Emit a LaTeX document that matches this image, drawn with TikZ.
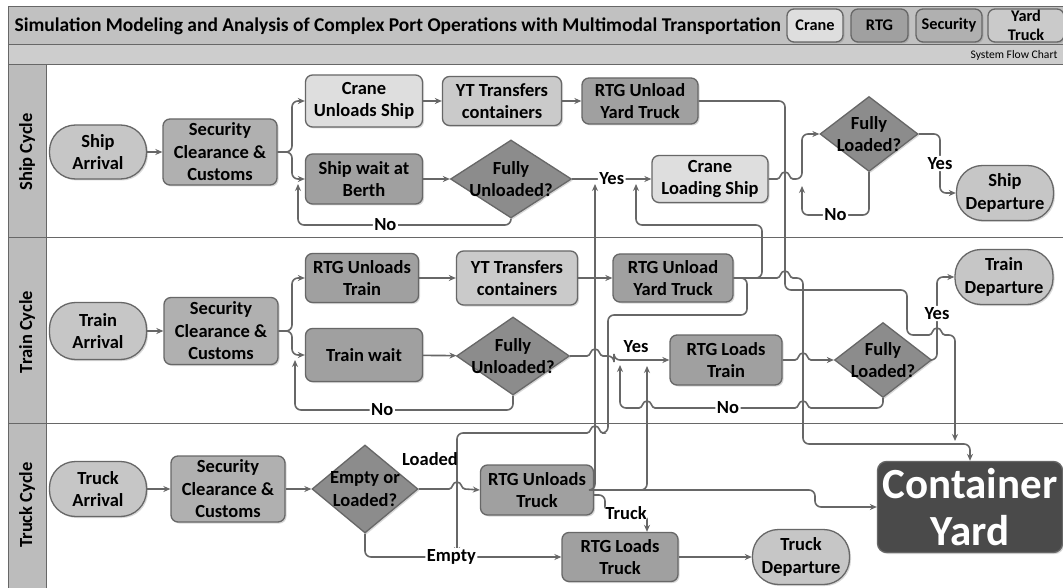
\documentclass[tikz,border=0pt]{standalone}
\usepackage{fontspec}
\setmainfont{Carlito}
\usetikzlibrary{positioning,shapes.geometric,arrows.meta,shadows}

\definecolor{lnc}{HTML}{676767}
\definecolor{cranec}{HTML}{DEDEDE}
\definecolor{rtgc}{HTML}{A0A0A0}
\definecolor{secc}{HTML}{B0B0B0}
\definecolor{ytc}{HTML}{CACACA}
\definecolor{termc}{HTML}{C6C6C6}
\definecolor{decc}{HTML}{8C8C8C}
\definecolor{yardc}{HTML}{4A4A4A}
\definecolor{bandc}{HTML}{C1C1C1}
\definecolor{subc}{HTML}{CDCDCD}
\definecolor{lanec}{HTML}{BCBCBC}

\newcommand{\nf}{\fontsize{18.5}{22.5}\selectfont\bfseries}
\newcommand{\lf}{\fontsize{16.3}{18.5}\selectfont\bfseries}
% line jumps, going right and going left
\newcommand{\hopr}[2]{[sharp corners] -- ({#1-8},#2) .. controls ({#1-4},#2) and ({#1-5},{#2-7}) .. (#1,{#2-7}) .. controls ({#1+5},{#2-7}) and ({#1+4},#2) .. ({#1+8},#2) [rounded corners=6pt]}
\newcommand{\hopl}[2]{[sharp corners] -- ({#1+8},#2) .. controls ({#1+4},#2) and ({#1+5},{#2-7}) .. (#1,{#2-7}) .. controls ({#1-5},{#2-7}) and ({#1-4},#2) .. ({#1-8},#2) [rounded corners=6pt]}

\begin{document}
\begin{tikzpicture}[x=1pt, y=-1pt,
    box/.style = {draw=lnc, line width=1.3pt, rounded corners=7pt, align=center, font=\nf, inner sep=0pt,
                  drop shadow={shadow xshift=1.5pt, shadow yshift=-1.5pt, opacity=0.3}},
    crane/.style = {box, fill=cranec},
    rtg/.style = {box, fill=rtgc},
    secu/.style = {box, fill=secc},
    ytr/.style = {box, fill=ytc},
    term/.style = {box, fill=termc, rounded corners=26pt},
    decide/.style = {draw=lnc, line width=1.3pt, diamond, fill=decc, inner sep=0pt,
                     drop shadow={shadow xshift=1.5pt, shadow yshift=-1.5pt, opacity=0.3}},
    yard/.style = {box, fill=yardc, text=white, font=\fontsize{43}{47}\selectfont\bfseries, rounded corners=9pt},
    lanelbl/.style = {rotate=90, font=\nf},
    arr/.style = {draw=lnc, line width=1.6pt, rounded corners=6pt, -{Stealth[length=7pt,width=6pt]}},
    lbl/.style = {font=\nf, fill=white, inner sep=1.5pt}]
    \useasboundingbox (0,0) rectangle (1063,588);
    % frame and lanes
    \fill[white] (0,0) rectangle (1063,588);
    \draw[lnc, line width=1pt, fill=bandc] (8,7) rectangle (1070,45);
    \draw[lnc, line width=1pt, fill=subc] (8,45) rectangle (1070,65);
    \draw[lnc, line width=1pt, fill=lanec] (8,65) rectangle (46,592);
    \draw[lnc, line width=1pt] (8,65) rectangle (1070,592);
    \draw[lnc, line width=1pt] (8,238) -- (1070,238) (8,423) -- (1070,423);
    \node[font=\fontsize{19.5}{22}\selectfont\bfseries, anchor=west](ttl) at (11,26){Simulation Modeling and Analysis of Complex Port Operations with Multimodal Transportation};
    \node[font=\fontsize{11.6}{13}\selectfont, anchor=east](sfc) at (1061,55){System Flow Chart};
    \node[crane, font=\lf, minimum width=56, minimum height=33](lgcrane) at (815,25.5){Crane};
    \node[rtg, font=\lf, minimum width=57, minimum height=33](lgrtg) at (879.5,25.5){RTG};
    \node[secu, font=\lf, minimum width=66, minimum height=33](lgsec) at (949,25.5){Security};
    \node[ytr, font=\lf, minimum width=76, minimum height=33](lgyt) at (1026,25.5){Yard\\Truck};
    \node[lanelbl](lship) at (27,152){Ship Cycle};
    \node[lanelbl](ltrain) at (27,332){Train Cycle};
    \node[lanelbl](ltruck) at (27,505){Truck Cycle};
    % ship cycle
    \node[term, minimum width=97, minimum height=54](sa) at (98,152){Ship\\Arrival};
    \node[secu, minimum width=114, minimum height=66](ss) at (220,152){Security\\Clearance \&\\Customs};
    \node[crane, minimum width=117, minimum height=52](cus) at (364,101){Crane\\Unloads Ship};
    \node[rtg, minimum width=117, minimum height=50](swb) at (364,179){Ship wait at\\Berth};
    \node[ytr, minimum width=119, minimum height=49](yt1) at (502,101){YT Transfers\\containers};
    \node[rtg, minimum width=116, minimum height=46](ru1) at (640,101){RTG Unload\\Yard Truck};
    \node[decide, minimum width=121, minimum height=78, label={[font=\nf, align=center]center:{Fully\\Unloaded?}}](fu1) at (511,179){};
    \node[crane, minimum width=116, minimum height=47](cls) at (710,179){Crane\\Loading Ship};
    \node[decide, minimum width=98, minimum height=75, label={[font=\nf, align=center]center:{Fully\\Loaded?}}](fl1) at (869,134){};
    \node[term, minimum width=97, minimum height=55](sd) at (1005,193){Ship\\Departure};
    % train cycle
    \node[term, minimum width=97, minimum height=57](ta) at (98,331){Train\\Arrival};
    \node[secu, minimum width=114, minimum height=67](ts) at (221,331){Security\\Clearance \&\\Customs};
    \node[rtg, minimum width=113, minimum height=49](rut) at (362,278){RTG Unloads\\Train};
    \node[rtg, minimum width=117, minimum height=53](tw) at (364,355){Train wait};
    \node[ytr, minimum width=121, minimum height=54](yt2) at (517,278){YT Transfers\\containers};
    \node[rtg, minimum width=120, minimum height=48](ru2) at (673,278){RTG Unload\\Yard Truck};
    \node[decide, minimum width=113, minimum height=78, label={[font=\nf, align=center]center:{Fully\\Unloaded?}}](fu2) at (513,356){};
    \node[rtg, minimum width=112, minimum height=50](rlt) at (726,360){RTG Loads\\Train};
    \node[decide, minimum width=97, minimum height=75, label={[font=\nf, align=center]center:{Fully\\Loaded?}}](fl2) at (883,360){};
    \node[term, minimum width=98, minimum height=55](td) at (1004,277){Train\\Departure};
    % truck cycle
    \node[term, minimum width=97, minimum height=55](tka) at (98,489){Truck\\Arrival};
    \node[secu, minimum width=114, minimum height=66](tks) at (228,489){Security\\Clearance \&\\Customs};
    \node[decide, minimum width=106, minimum height=88, label={[font=\nf, align=center]center:{Empty or\\Loaded?}}](eol) at (365,489){};
    \node[rtg, minimum width=113, minimum height=50](rutk) at (537,490){RTG Unloads\\Truck};
    \node[rtg, minimum width=116, minimum height=49](rltk) at (620,557){RTG Loads\\Truck};
    \node[term, minimum width=97, minimum height=55](tkd) at (801,557){Truck\\Departure};
    \node[yard, minimum width=185, minimum height=91](cy) at (970,507){Container\\Yard};
    % free ends of connectors
    \coordinate (noS1) at (298,184);
    \coordinate (noS2) at (802,186);
    \coordinate (yesS1) at (595,184);
    \coordinate (yesS2) at (636,184);
    \coordinate (noT1) at (295,360);
    \coordinate (noT2) at (620,365);
    \coordinate (yesT1) at (647,366);
    \coordinate (cyjoin) at (955,441);
    \coordinate (emptyin) at (457,554);
    % ship connectors
    \draw[arr] (sa) -- (ss);
    \draw[arr] (ss.east) -- (292,152) |- (cus.west);
    \draw[arr] (ss.east) -- (292,152) |- (swb.west);
    \draw[arr] (cus) -- (yt1);
    \draw[arr] (yt1) -- (ru1);
    \draw[arr] (swb) -- (fu1);
    \draw[arr] (fu1.south) -- (511,225) -- node[lbl, pos=0.59]{No} (298,225) -- (noS1);
    \draw[arr] (fu1.east) -- node[lbl]{Yes} (cls.west);
    \draw[arr] (cls.east) \hopr{785}{179} -- (802,179) |- (fl1.west);
    \draw[arr] (fl1.south) -- (869,215) -- node[lbl]{No} (802,215) -- (noS2);
    \draw[arr] (fl1.east) -| node[lbl, pos=0.75]{Yes} (940,193) -- (sd.west);
    \draw[arr] (ru1.east) -- (785,101) -- (785,290) -- (907,290) -- (907,335) \hopr{937}{335} -- (955,335) -- (cyjoin);
    % train connectors
    \draw[arr] (ta) -- (ts);
    \draw[arr] (ts.east) -- (292,331) |- (rut.west);
    \draw[arr] (ts.east) -- (292,331) |- (tw.west);
    \draw[arr] (rut) -- (yt2);
    \draw[arr] (yt2) -- (ru2);
    \draw[arr] (tw) -- (fu2);
    \draw[arr] (fu2.south) -- (513,410) -- node[lbl, pos=0.6]{No} (295,410) -- (noT1);
    \draw[arr] (fu2.east) \hopr{595}{356} -- (614,356) |- node[lbl, pos=0.7, above=5pt]{Yes} (rlt.west);
    \draw[arr] (rlt.east) \hopr{803}{360} -- (fl2.west);
    \draw[arr] (fl2.south) -- (883,408) \hopl{803}{408} \hopl{647}{408} -- (620,408) -- (noT2)
        node[lbl](noT2lbl) at (728,408){No};
    \draw[arr] (fl2.east) -| node[lbl, pos=0.78]{Yes} (937,277) -- (td.west);
    \draw[arr] (ru2.east) -- (762,278) -- (762,225) -- (636,225) -- (yesS2);
    \draw[arr] (ru2.east) \hopr{785}{278} -- (803,278) -- (803,444) -| (cy.north);
    \draw[arr] (ru2.east) -- (747,278) -- (747,315) -- (608,315) -- (608,433) \hopl{595}{433} -- (457,433) -- (emptyin);
    % truck connectors
    \draw[arr] (tka) -- (tks);
    \draw[arr] (tks) -- (eol);
    \draw[arr] (eol.east) \hopr{457}{489} -- (rutk.west) node[font=\nf](ldd) at (430,459){Loaded};
    \draw[arr] (eol.south) |- node[lbl, pos=0.72]{Empty} (rltk.west);
    \draw[arr] (rutk.east) -- (815,490) |- (cy.west);
    \draw[arr] (rutk.east) -| (yesS1);
    \draw[arr] (rutk.east) -| (yesT1);
    \draw[arr] ([yshift=-5pt]rutk.east) -- (605,495) -- (605,513) -- node[lbl]{Truck} (647,513) -- ([xshift=27pt]rltk.north);
    \draw[arr] (rltk) -- (tkd);
\end{tikzpicture}
\end{document}
